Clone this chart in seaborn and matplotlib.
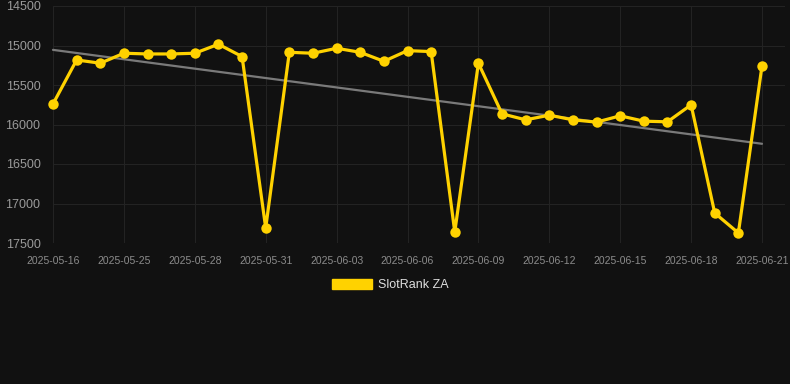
import numpy as np
import pandas as pd
import seaborn as sns
import matplotlib.pyplot as plt
from matplotlib.patches import Patch

dates = ["2025-05-16"] + [d.strftime("%Y-%m-%d") for d in pd.date_range("2025-05-23", "2025-06-21")]
ranks = [15740, 15183, 15224, 15098, 15107, 15107, 15098, 14984, 15140, 17310,
         15086, 15098, 15035, 15086, 15200, 15065, 15077, 17361, 15224, 15865,
         15941, 15882, 15941, 15970, 15890, 15958, 15966, 15751, 17121, 17373,
         15258]
series_name = "SlotRank ZA"

df = pd.DataFrame({"date": dates, "rank": ranks})
df["idx"] = np.arange(len(df))

bg = "#111111"
grid = "#232323"
sns.set_theme(style="dark")
plt.rcParams["font.family"] = ["Liberation Sans", "DejaVu Sans"]

fig = plt.figure(figsize=(7.9, 3.84), dpi=100, facecolor=bg)
ax = fig.add_axes([53 / 790, 1 - 243 / 384, (785 - 53) / 790, 237 / 384])
ax.set_facecolor(bg)

# trend line first so the series sits over it
sns.regplot(data=df, x="idx", y="rank", scatter=False, ci=None, ax=ax,
            line_kws=dict(color="#7a7a7a", lw=1.6))
sns.lineplot(data=df, x="idx", y="rank", ax=ax, color="#FFD200", lw=2.3,
             marker="o", markersize=7.5, markeredgewidth=0, legend=False)
for ln in ax.lines:
    ln.set_clip_on(False)

ax.set_xlim(0, 30 * 732 / 709)
ax.set_ylim(17500, 14500)
ax.set_yticks(np.arange(14500, 17501, 500))
ax.set_xticks(df["idx"][::3])
ax.set_xticklabels(df["date"][::3])
ax.grid(True, color=grid, lw=0.8)
ax.tick_params(axis="y", length=8, color=grid, labelcolor="#9a9a9a", labelsize=9, pad=1)
ax.tick_params(axis="x", length=8, color=grid, labelcolor="#8c8c8c", labelsize=7.5, pad=1)
for s in ax.spines.values():
    s.set_visible(False)
ax.set_xlabel("")
ax.set_ylabel("")

fig.legend(handles=[Patch(color="#FFD200", label=series_name)], loc="center",
           bbox_to_anchor=(390 / 790, 1 - 285 / 384), frameon=False,
           fontsize=9, labelcolor="#dddddd", handlelength=3.2, handleheight=0.9,
           handletextpad=0.5)

fig.savefig("out.png", dpi=100, facecolor=bg)
